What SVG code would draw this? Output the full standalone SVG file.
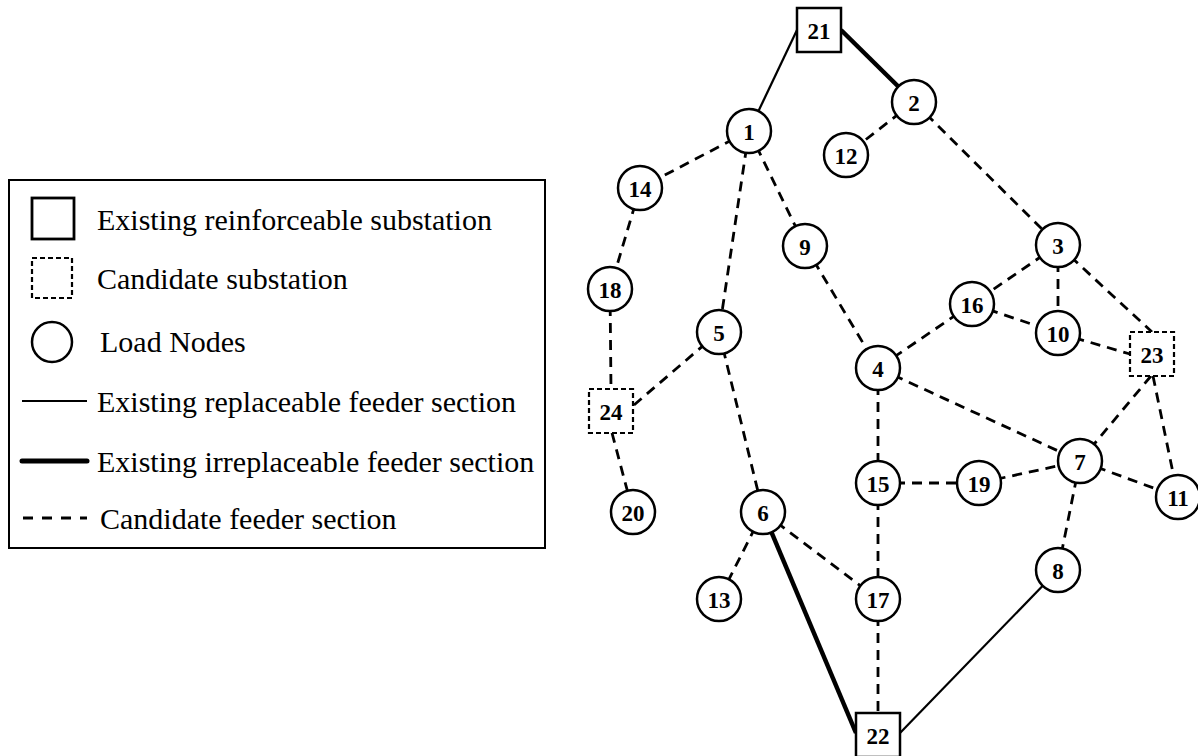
<svg xmlns="http://www.w3.org/2000/svg" width="1198" height="756" viewBox="0 0 1198 756">
  <style>
    .bg { fill: #ffffff; }
    .node circle, .node rect { fill: #ffffff; stroke: #000000; stroke-width: 2.5; }
    .node.cand rect { stroke-dasharray: 5 3; stroke-width: 2.2; }
    .node text { font-family: "Liberation Serif", "Times New Roman", serif; font-weight: bold; font-size: 23px; text-anchor: middle; dominant-baseline: central; fill: #000000; }
    .thin { stroke: #000000; stroke-width: 2.2; fill: none; }
    .thick { stroke: #000000; stroke-width: 4.5; fill: none; }
    .dash { stroke: #000000; stroke-width: 2.8; fill: none; stroke-dasharray: 10 7; }
    .legend-box { fill: #ffffff; stroke: #000000; stroke-width: 2; }
    .legend-text { font-family: "Liberation Serif", "Times New Roman", serif; font-size: 30px; fill: #000000; }
  </style>
  <rect class="bg" x="0" y="0" width="1198" height="756"/>

  <!-- Legend -->
  <g id="legend">
    <rect class="legend-box" x="9" y="180" width="536" height="368"/>
    <rect x="32" y="198" width="42" height="41" fill="#ffffff" stroke="#000000" stroke-width="2.8"/>
    <text class="legend-text" x="97" y="230">Existing reinforceable substation</text>
    <rect x="32" y="258" width="40" height="40" fill="#ffffff" stroke="#000000" stroke-width="2.2" stroke-dasharray="5 3"/>
    <text class="legend-text" x="97" y="289">Candidate substation</text>
    <circle cx="52" cy="342" r="20" fill="#ffffff" stroke="#000000" stroke-width="2.5"/>
    <text class="legend-text" x="100" y="352">Load Nodes</text>
    <line class="thin" x1="22" y1="401" x2="87" y2="401"/>
    <text class="legend-text" x="97" y="412">Existing replaceable feeder section</text>
    <line x1="22" y1="461" x2="87" y2="461" stroke="#000000" stroke-width="5" stroke-linecap="round"/>
    <text class="legend-text" x="97" y="472">Existing irreplaceable feeder section</text>
    <line x1="23" y1="518" x2="87" y2="518" stroke="#000000" stroke-width="3" stroke-dasharray="10 9"/>
    <text class="legend-text" x="100" y="529">Candidate feeder section</text>
  </g>

  <!-- Feeder sections -->
  <g id="connectors">
    <line class="thin" x1="797" y1="30" x2="749" y2="131"/>
    <line class="thick" x1="841" y1="30" x2="914" y2="102"/>
    <line class="thick" x1="763" y1="512" x2="856" y2="733"/>
    <line class="thin" x1="900" y1="733" x2="1058" y2="570"/>

    <line class="dash" x1="749" y1="131" x2="640" y2="188"/>
    <line class="dash" x1="640" y1="188" x2="610" y2="289"/>
    <line class="dash" x1="610" y1="289" x2="611" y2="389"/>
    <line class="dash" x1="612" y1="433" x2="633" y2="512"/>
    <line class="dash" x1="634" y1="405" x2="719" y2="332"/>
    <line class="dash" x1="749" y1="131" x2="719" y2="332"/>
    <line class="dash" x1="749" y1="131" x2="805" y2="246"/>
    <line class="dash" x1="805" y1="246" x2="878" y2="368"/>
    <line class="dash" x1="719" y1="332" x2="763" y2="512"/>
    <line class="dash" x1="763" y1="512" x2="719" y2="599"/>
    <line class="dash" x1="763" y1="512" x2="878" y2="599"/>
    <line class="dash" x1="914" y1="102" x2="846" y2="155"/>
    <line class="dash" x1="914" y1="102" x2="1058" y2="245"/>
    <line class="dash" x1="1058" y1="245" x2="972" y2="304"/>
    <line class="dash" x1="1058" y1="245" x2="1058" y2="333"/>
    <line class="dash" x1="1058" y1="245" x2="1152" y2="332"/>
    <line class="dash" x1="972" y1="304" x2="1058" y2="333"/>
    <line class="dash" x1="972" y1="304" x2="878" y2="368"/>
    <line class="dash" x1="1058" y1="333" x2="1130" y2="354"/>
    <line class="dash" x1="878" y1="368" x2="878" y2="483"/>
    <line class="dash" x1="878" y1="368" x2="1080" y2="461"/>
    <line class="dash" x1="878" y1="483" x2="979" y2="483"/>
    <line class="dash" x1="979" y1="483" x2="1080" y2="461"/>
    <line class="dash" x1="878" y1="483" x2="878" y2="599"/>
    <line class="dash" x1="878" y1="599" x2="878" y2="713"/>
    <line class="dash" x1="1151" y1="376" x2="1080" y2="461"/>
    <line class="dash" x1="1153" y1="376" x2="1178" y2="497"/>
    <line class="dash" x1="1080" y1="461" x2="1178" y2="497"/>
    <line class="dash" x1="1080" y1="461" x2="1058" y2="570"/>
  </g>

  <!-- Substations -->
  <g id="n21" class="node"><rect x="797" y="8" width="44" height="44"/><text x="819" y="31">21</text></g>
  <g id="n22" class="node"><rect x="856" y="713" width="44" height="44"/><text x="878" y="736">22</text></g>
  <g id="n23" class="node cand"><rect x="1130" y="332" width="44" height="44"/><text x="1152" y="355">23</text></g>
  <g id="n24" class="node cand"><rect x="589" y="389" width="44" height="44"/><text x="611" y="412">24</text></g>

  <!-- Load nodes -->
  <g id="n1" class="node"><circle cx="749" cy="131" r="22"/><text x="749" y="132">1</text></g>
  <g id="n2" class="node"><circle cx="914" cy="102" r="22"/><text x="914" y="103">2</text></g>
  <g id="n3" class="node"><circle cx="1058" cy="245" r="22"/><text x="1058" y="246">3</text></g>
  <g id="n4" class="node"><circle cx="878" cy="368" r="22"/><text x="878" y="369">4</text></g>
  <g id="n5" class="node"><circle cx="719" cy="332" r="22"/><text x="719" y="333">5</text></g>
  <g id="n6" class="node"><circle cx="763" cy="512" r="22"/><text x="763" y="513">6</text></g>
  <g id="n7" class="node"><circle cx="1080" cy="461" r="22"/><text x="1080" y="462">7</text></g>
  <g id="n8" class="node"><circle cx="1058" cy="570" r="22"/><text x="1058" y="571">8</text></g>
  <g id="n9" class="node"><circle cx="805" cy="246" r="22"/><text x="805" y="247">9</text></g>
  <g id="n10" class="node"><circle cx="1058" cy="333" r="22"/><text x="1058" y="334">10</text></g>
  <g id="n11" class="node"><circle cx="1178" cy="497" r="22"/><text x="1178" y="498">11</text></g>
  <g id="n12" class="node"><circle cx="846" cy="155" r="22"/><text x="846" y="156">12</text></g>
  <g id="n13" class="node"><circle cx="719" cy="599" r="22"/><text x="719" y="600">13</text></g>
  <g id="n14" class="node"><circle cx="640" cy="188" r="22"/><text x="640" y="189">14</text></g>
  <g id="n15" class="node"><circle cx="878" cy="483" r="22"/><text x="878" y="484">15</text></g>
  <g id="n16" class="node"><circle cx="972" cy="304" r="22"/><text x="972" y="305">16</text></g>
  <g id="n17" class="node"><circle cx="878" cy="599" r="22"/><text x="878" y="600">17</text></g>
  <g id="n18" class="node"><circle cx="610" cy="289" r="22"/><text x="610" y="290">18</text></g>
  <g id="n19" class="node"><circle cx="979" cy="483" r="22"/><text x="979" y="484">19</text></g>
  <g id="n20" class="node"><circle cx="633" cy="512" r="22"/><text x="633" y="513">20</text></g>
</svg>
